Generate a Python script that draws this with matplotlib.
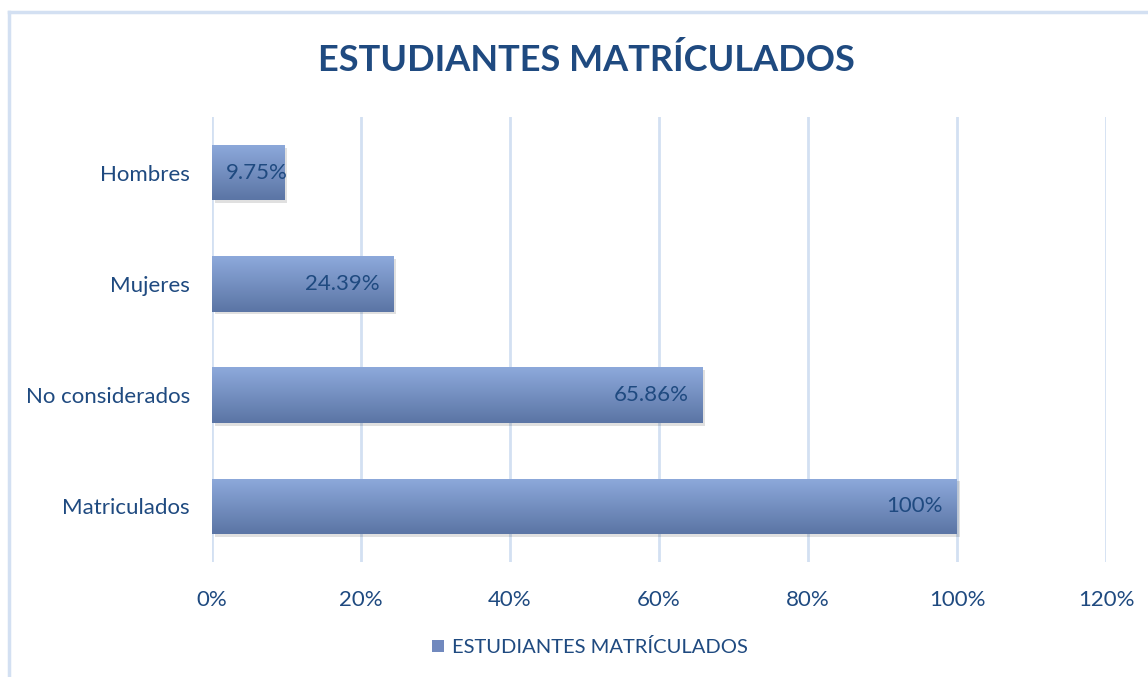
import numpy as np
import matplotlib
matplotlib.use("Agg")
import matplotlib.pyplot as plt
import matplotlib.patheffects as pe
from matplotlib.patches import Patch
from matplotlib.ticker import FuncFormatter

# data
categories = ["Matriculados", "No considerados", "Mujeres", "Hombres"]
values = [1.00, 0.6586, 0.2439, 0.0975]
value_labels = ["100%", "65.86%", "24.39%", "9.75%"]
title = "ESTUDIANTES MATRÍCULADOS"

plt.rcParams["font.family"] = ["Lato", "DejaVu Sans"]

text_col = "#1F4A80"
grid_col = "#D3E0F2"
bar_top = np.array([0x8D, 0xA9, 0xDB]) / 255
bar_bot = np.array([0x5B, 0x75, 0xA5]) / 255

fig = plt.figure(figsize=(11.48, 6.77), dpi=100)
ax = fig.add_axes([212 / 1148, 1 - 562 / 677, 894 / 1148, 445 / 677])

# outer frame of the chart area
fig.add_artist(plt.Line2D([9 / 1148, 9 / 1148], [0, 1 - 12 / 677], transform=fig.transFigure,
                          color=grid_col, lw=2.5))
fig.add_artist(plt.Line2D([9 / 1148, 1], [1 - 12 / 677, 1 - 12 / 677], transform=fig.transFigure,
                          color=grid_col, lw=2.5))

y = np.arange(len(categories))
bars = ax.barh(y, values, height=0.5, color="#7189BE", zorder=3,
               path_effects=[pe.SimplePatchShadow(offset=(2, -2), shadow_rgbFace="#000000", alpha=0.12),
                             pe.Normal()])

# vertical gradient fill for each bar (light on top, darker at bottom)
grad = np.linspace(0, 1, 64)[:, None, None]
img = bar_top[None, None, :] * (1 - grad) + bar_bot[None, None, :] * grad
for b in bars:
    x0, y0 = b.get_x(), b.get_y()
    w, h = b.get_width(), b.get_height()
    im = ax.imshow(img, extent=[x0, x0 + w, y0, y0 + h], aspect="auto", zorder=4,
                   interpolation="bilinear")
    im.set_clip_path(b)

for b, v, lab in zip(bars, values, value_labels):
    yc = b.get_y() + b.get_height() / 2
    if v < 0.15:
        ax.annotate(lab, (0, yc), xytext=(10, 0), textcoords="offset points",
                    ha="left", va="center", fontsize=16, color=text_col, zorder=5)
    else:
        ax.annotate(lab, (v, yc), xytext=(-10, 0), textcoords="offset points",
                    ha="right", va="center", fontsize=16, color=text_col, zorder=5)

ax.set_xlim(0, 1.2)
ax.set_ylim(-0.5, len(categories) - 0.5)
ax.set_xticks(np.arange(0, 1.21, 0.2))
ax.xaxis.set_major_formatter(FuncFormatter(lambda v, p: f"{v * 100:.0f}%"))
ax.set_yticks(y)
ax.set_yticklabels(categories)
ax.tick_params(axis="both", length=0, labelsize=16, labelcolor=text_col)
ax.tick_params(axis="x", pad=20)
ax.tick_params(axis="y", pad=16)
ax.grid(axis="x", color=grid_col, lw=2, zorder=0)
ax.set_axisbelow(True)
for s in ax.spines.values():
    s.set_visible(False)

fig.text(586 / 1148, 1 - 60 / 677, title, ha="center", va="center",
         fontsize=26, fontweight="bold", color=text_col)

fig.legend(handles=[Patch(facecolor="#7189BE", label=title)], loc="center",
           bbox_to_anchor=(590 / 1148, 1 - 647 / 677), frameon=False, fontsize=14.5,
           handlelength=0.6, handleheight=0.6, handletextpad=0.4, labelcolor=text_col)

fig.savefig("out.png", dpi=100)
